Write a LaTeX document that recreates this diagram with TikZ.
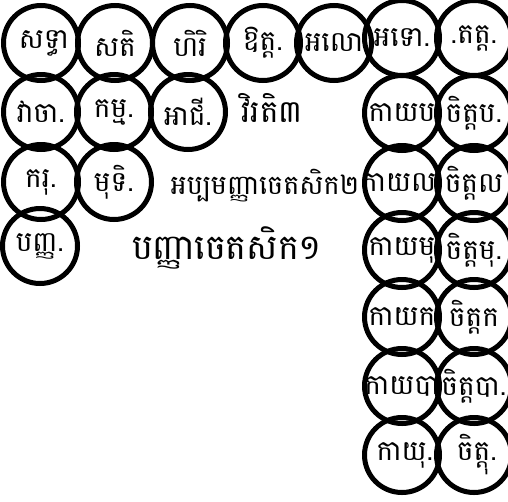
\documentclass[tikz,border=0pt]{standalone}
\usepackage{fontspec}
\newfontfamily\khmer[Script=Khmer]{Battambang}
\begin{document}
\begin{tikzpicture}[x=1pt,y=-1pt,
  cc/.style={circle,draw=black,line width=5pt,minimum size=75pt,inner sep=0pt},
  tx/.style={font=\khmer\fontsize{28}{32}\selectfont,inner sep=0pt},
  lb/.style={font=\khmer\fontsize{#1}{#1}\selectfont,inner sep=0pt}]
\useasboundingbox (0,0) rectangle (508,501);
% row 1
\node[cc] (a1) at (41,43) {};
\node[cc] (a2) at (115,43) {};
\node[cc] (a3) at (190,43) {};
\node[cc] (a4) at (263,43) {};
\node[cc] (a5) at (334,43) {};
\node[cc] (a6) at (402,38) {};
\node[cc] (a7) at (474,38) {};
% row 2
\node[cc] (b1) at (41,112) {};
\node[cc] (b2) at (114,112) {};
\node[cc] (b3) at (188,112) {};
% row 3
\node[cc] (c1) at (41,182) {};
\node[cc] (c2) at (114,182) {};
% row 4
\node[cc] (d1) at (40,246) {};
% right columns
\node[cc] (r1) at (402,113) {};
\node[cc] (s1) at (474,113) {};
\node[cc] (r2) at (402,183) {};
\node[cc] (s2) at (474,183) {};
\node[cc] (r3) at (402,250) {};
\node[cc] (s3) at (474,250) {};
\node[cc] (r4) at (402,317) {};
\node[cc] (s4) at (474,317) {};
\node[cc] (r5) at (402,386) {};
\node[cc] (s5) at (474,386) {};
\node[cc] (r6) at (402,455) {};
\node[cc] (s6) at (474,455) {};
% texts
\node[tx] (ta1) at ([xshift=3pt]a1) {សទ្ធា};
\node[tx] (ta2) at (a2) {សតិ};
\node[tx] (ta3) at (a3) {ហិរិ};
\node[tx] (ta4) at (a4) {ឱត្ត.};
\node[tx] (ta5) at (a5) {អលោ};
\node[tx] (ta6) at (a6) {អទោ.};
\node[tx] (ta7) at (a7) {.តត្ត.};
\node[tx] (tb1) at (b1) {វាចា.};
\node[tx] (tb2) at (b2) {កម្ម.};
\node[tx] (tb3) at (b3) {អាជី.};
\node[tx] (tc1) at (c1) {ករុ.};
\node[tx] (tc2) at (c2) {មុទិ.};
\node[tx] (td1) at (d1) {បញ្ញ.};
\node[tx] (tr1) at (r1) {កាយប};
\node[tx] (ts1) at (s1) {ចិត្តប.};
\node[tx] (tr2) at (r2) {កាយល.};
\node[tx] (ts2) at (s2) {ចិត្តល};
\node[tx] (tr3) at (r3) {កាយមុ};
\node[tx] (ts3) at (s3) {ចិត្តមុ.};
\node[tx] (tr4) at (r4) {កាយក};
\node[tx] (ts4) at (s4) {ចិត្តក};
\node[tx] (tr5) at (r5) {កាយបា};
\node[tx] (ts5) at (s5) {ចិត្តបា.};
\node[tx] (tr6) at ([xshift=3pt]r6) {កាយុ.};
\node[tx] (ts6) at ([xshift=3pt]s6) {ចិត្តុ.};
% labels
\node[lb=31] (l1) at (272,108) {វិរតិ៣};
\node[lb=27] (l2) at (265,186) {អប្បមញ្ញាចេតសិក២};
\node[lb=35] (l3) at (227,248) {បញ្ញាចេតសិក១};
\end{tikzpicture}
\end{document}
